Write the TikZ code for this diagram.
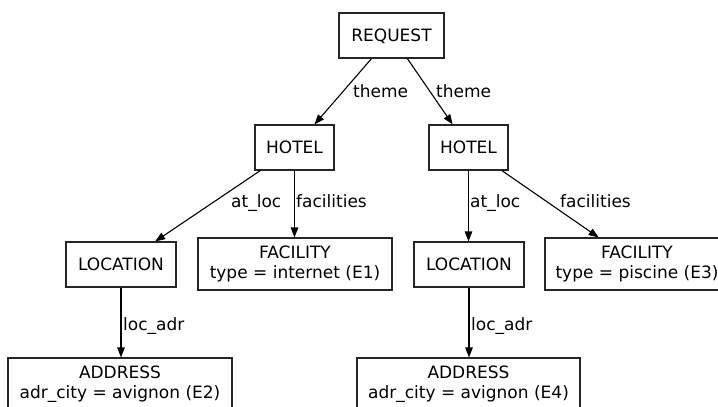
\documentclass[tikz,border=0pt]{standalone}
\usepackage{fontspec}
\setmainfont{DejaVu Sans}
\usetikzlibrary{arrows.meta}
\begin{document}
\begin{tikzpicture}[x=1pt,y=-1pt,
  every node/.style={font=\fontsize{17}{20}\selectfont, inner sep=0pt},
  box/.style={draw=black!85, line width=1.1pt, rectangle, minimum height=45pt, text depth=0pt},
  tbox/.style={draw=black!85, line width=1.1pt, rectangle, minimum height=52pt, align=center},
  lbl/.style={anchor=base west},
  conn/.style={draw, line width=1.1pt, -{Triangle[length=10pt,width=7.5pt]}}]
\useasboundingbox (0,0) rectangle (718,407);
\clip (0,0) rectangle (718,407);
\node[box, minimum width=105pt] (req) at (391.5,35.5) {REQUEST};
\node[box, minimum width=79pt] (h1) at (294.5,147.5) {HOTEL};
\node[box, minimum width=79pt] (h2) at (468.5,147.5) {HOTEL};
\node[box, minimum width=110pt] (l1) at (121,264.5) {LOCATION};
\node[box, minimum width=110pt] (l2) at (469,264.5) {LOCATION};
\node[tbox, minimum width=194pt] (f1) at (295,264) {FACILITY\\type = internet (E1)};
\node[tbox, minimum width=184pt] (f2) at (637,264) {FACILITY\\type = piscine (E3)};
\node[tbox, minimum width=224pt] (a1) at (120,384) {ADDRESS\\adr\_city = avignon (E2)};
\node[tbox, minimum width=223pt] (a2) at (468.5,384) {ADDRESS\\adr\_city = avignon (E4)};
\draw[conn] (req) -- (h1);
\draw[conn] (req) -- (h2);
\draw[conn] (h1) -- (l1);
\draw[conn] (h1) -- (h1 |- f1.north);
\draw[conn] (h2) -- (h2 |- l2.north);
\draw[conn] (h2) -- (f2);
\draw[conn] (l1) -- (l1 |- a1.north);
\draw[conn] (l2) -- (l2 |- a2.north);
\node[lbl] (t1) at (353,97) {theme};
\node[lbl] (t2) at (436,97) {theme};
\node[lbl] (al1) at (231,207) {at\_loc};
\node[lbl] (fa1) at (296,207) {facilities};
\node[lbl] (al2) at (470,207) {at\_loc};
\node[lbl] (fa2) at (560,207) {facilities};
\node[lbl] (la1) at (123,330) {loc\_adr};
\node[lbl] (la2) at (471,330) {loc\_adr};
\end{tikzpicture}
\end{document}
